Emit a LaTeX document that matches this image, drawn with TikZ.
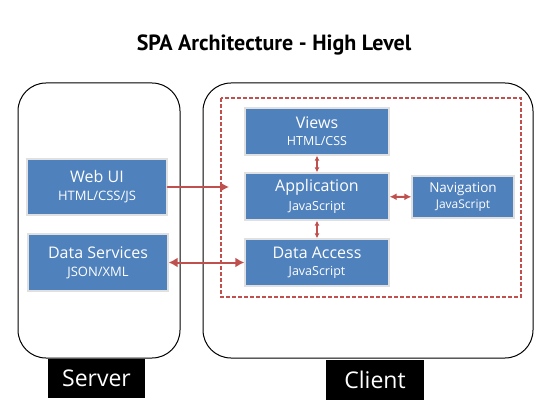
\documentclass[tikz,border=0pt]{standalone}
\usepackage{fontspec}
\setmainfont{Open Sans}
\newfontfamily\titlefont{PT Sans}
\usepackage{tikz}
\usetikzlibrary{arrows.meta}
\usetikzlibrary{shapes,positioning}
\definecolor{boxBlue}{RGB}{79,129,189}
\definecolor{linkRed}{RGB}{192,80,77}
\colorlet{penColor}{boxBlue}
\colorlet{penColor2}{linkRed}
\tikzset{>={Latex[length=9pt,width=10pt]},
  part/.style={draw=black!12,line width=1.3pt,fill=penColor,text=white,
    align=center,inner sep=0pt},
  tag/.style={fill=black,text=white,inner sep=0pt,font=\fontsize{23}{23}\selectfont},
  frame/.style={draw=black,line width=1pt,rounded corners=28pt},
  link/.style={penColor2,line width=2pt},
  thinlink/.style={penColor2,line width=1.3pt,{Latex[length=5pt,width=5pt]}-{Latex[length=5pt,width=5pt]}}}

\begin{document}
\begin{tikzpicture}[x=1pt,y=-1pt,line cap=round]

  \useasboundingbox [fill=white] (0,0) rectangle (556,414);

  \node (title) at (274,45) {\titlefont\bfseries\fontsize{22}{22}\selectfont SPA Architecture - High Level};

  % frames
  \draw [frame] (18,83) rectangle (180,358);
  \draw [frame] (203,83) rectangle (533,358);
  \draw [penColor2,line width=1.4pt,dash pattern=on 4pt off 2pt,line cap=butt] (221,98) rectangle (521,297);

  \node [tag,minimum width=97pt,minimum height=39pt] (server) at (96.5,378.5) {Server};
  \node [tag,minimum width=98pt,minimum height=40pt] (client) at (375,380) {Client};

  % server side
  \node [part,minimum width=140pt,minimum height=56pt] (webui) at (97,187)
    {{\fontsize{16}{20}\selectfont Web UI}\\[6pt]{\fontsize{13}{16}\selectfont HTML/CSS/JS}};
  \node [part,minimum width=140pt,minimum height=57pt] (data) at (98,262.5)
    {{\fontsize{16}{20}\selectfont Data Services}\\[6pt]{\fontsize{13}{16}\selectfont JSON/XML}};

  % client side
  \node [part,minimum width=144pt,minimum height=47pt] (views) at (317,131.5)
    {{\fontsize{16}{19}\selectfont Views}\\[5pt]{\fontsize{12.5}{15}\selectfont HTML/CSS}};
  \node [part,minimum width=144pt,minimum height=47pt] (app) at (317,196.5)
    {{\fontsize{16}{19}\selectfont Application}\\[5pt]{\fontsize{12.5}{15}\selectfont JavaScript}};
  \node [part,minimum width=144pt,minimum height=47pt] (access) at (317,262.5)
    {{\fontsize{16}{19}\selectfont Data Access}\\[5pt]{\fontsize{12.5}{15}\selectfont JavaScript}};
  \node [part,minimum width=102pt,minimum height=42pt] (nav) at (463,197)
    {{\fontsize{13.5}{17}\selectfont Navigation}\\[3pt]{\fontsize{12}{14}\selectfont JavaScript}};

  \coordinate (entry) at (229,187);

  % links
  \draw [link,->] (webui) -- (entry);
  \draw [link,<->] (data) -- (access);
  \draw [thinlink] (views) -- (app);
  \draw [thinlink] (app) -- (access);
  \draw [link,{Latex[length=7pt,width=7pt]}-{Latex[length=7pt,width=7pt]}] (app) -- (nav);

\end{tikzpicture}
\end{document}
